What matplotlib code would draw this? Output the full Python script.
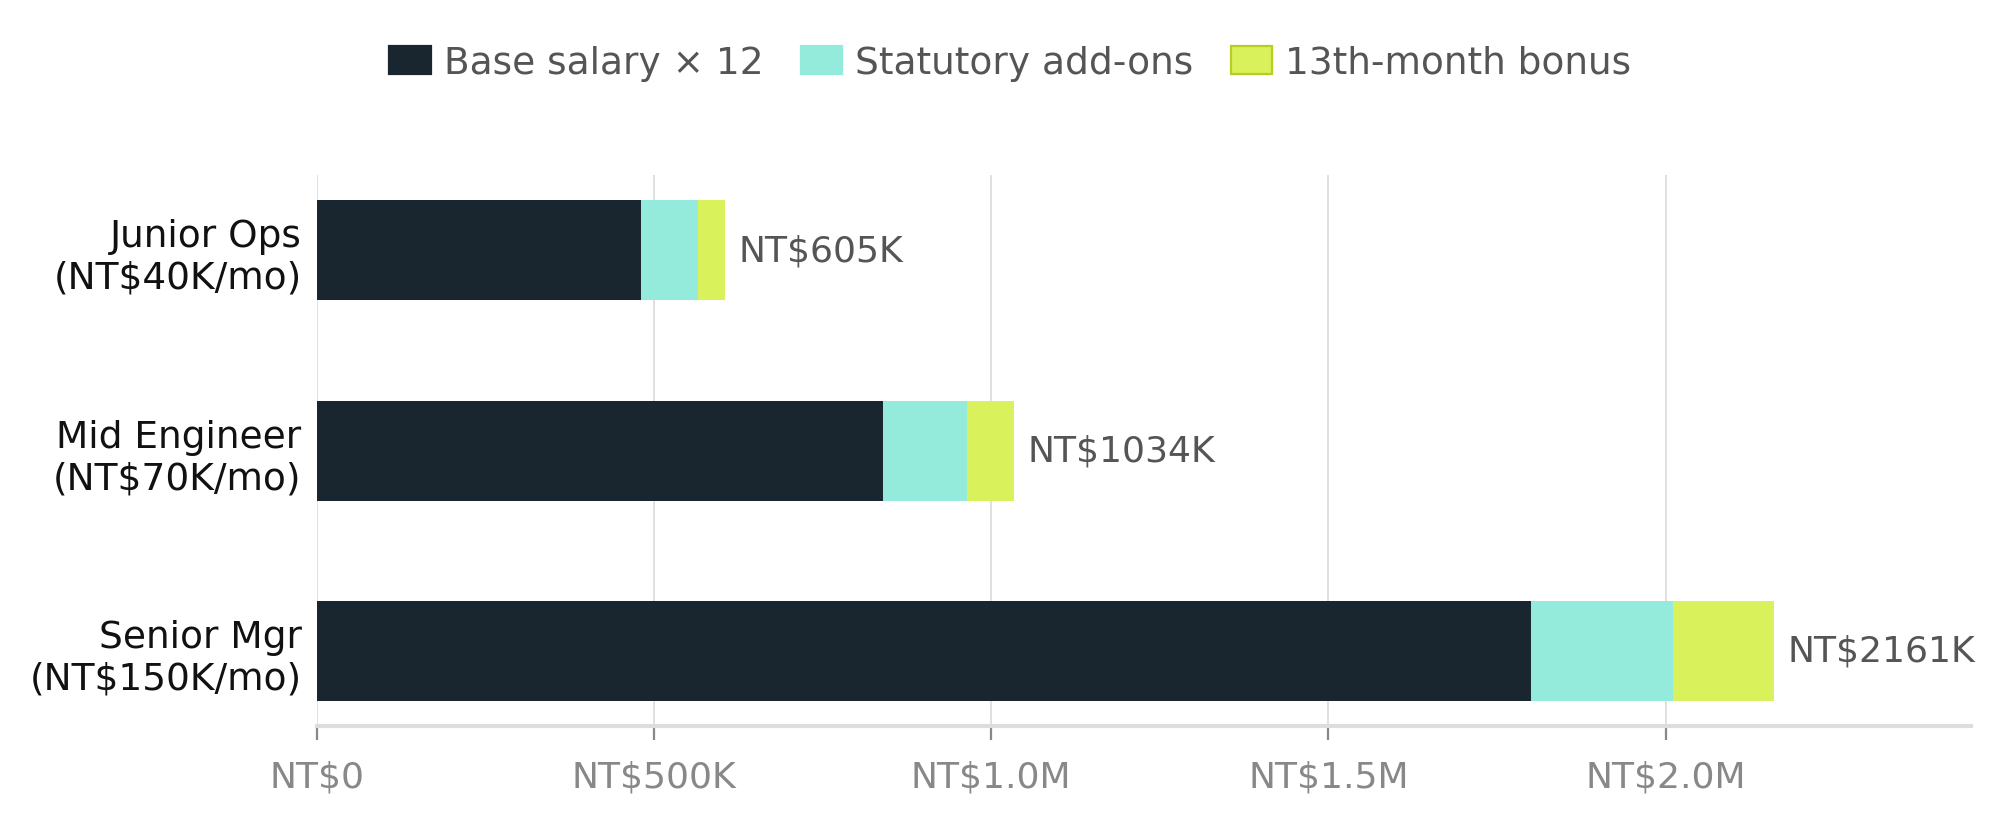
import numpy as np
import matplotlib
matplotlib.use('Agg')
from matplotlib import pyplot as plt
from matplotlib import rcParams

rcParams['font.family'] = 'DejaVu Sans'

#%% data (NT$ thousands per year)
roles = ['Junior Ops\n(NT$40K/mo)', 'Mid Engineer\n(NT$70K/mo)', 'Senior Mgr\n(NT$150K/mo)']
base = [480, 840, 1800]
addons = [85, 124, 211]
bonus = [40, 70, 150]
series_names = ['Base salary × 12', 'Statutory add-ons', '13th-month bonus']
xticks = [0, 500, 1000, 1500, 2000]
xticklabels = ['NT$0', 'NT$500K', 'NT$1.0M', 'NT$1.5M', 'NT$2.0M']

colors = ['#19252f', '#94eadb', '#d9f25c']
edges = ['#19252f', '#94eadb', '#b8cc22']

#%%
fig = plt.figure(figsize=(10.005, 4.1), dpi=200)
ax = fig.add_axes([0.1584, 0.1134, 0.8266, 0.6716])

y = np.arange(len(roles))
left = np.zeros(len(roles))
handles = []
for vals, c, ec, name in zip([base, addons, bonus], colors, edges, series_names):
    ax.barh(y, vals, left=left, height=0.5, color=c, linewidth=0, zorder=2, label=name)
    left += np.array(vals)
    handles.append(plt.Rectangle((0, 0), 1, 1, facecolor=c, edgecolor=ec, linewidth=0.8))

totals = left
for yi, tot in zip(y, totals):
    ax.annotate(f'NT${int(tot):d}K', xy=(tot, yi), xytext=(4.8, 0), textcoords='offset points',
                ha='left', va='center', fontsize=13, color='#555555')

ax.set_xlim(0, 2453)
ax.set_ylim(2.375, -0.375)

ax.set_xticks(xticks)
ax.set_xticklabels(xticklabels)
ax.set_yticks(y)
ax.set_yticklabels(roles)

ax.grid(axis='x', color='#e0e0e0', linewidth=0.7, zorder=0)
ax.set_axisbelow(True)
for s in ['top', 'right', 'left']:
    ax.spines[s].set_visible(False)
ax.spines['bottom'].set_color('#dddddd')
ax.spines['bottom'].set_linewidth(1.5)

ax.tick_params(axis='x', colors='#888888', labelsize=13, length=5, width=0.8, pad=7,
               labelcolor='#888888')
ax.tick_params(axis='y', length=0, labelsize=13.5, labelcolor='#111111', pad=5.5)

fig.legend(handles, series_names, loc='center', bbox_to_anchor=(0.505, 0.922), ncol=3,
           frameon=False, fontsize=13.5, labelcolor='#555555', handlelength=1.1,
           handleheight=0.8, handletextpad=0.35, columnspacing=1.0)

fig.savefig('out.png', dpi=200)
plt.close()
